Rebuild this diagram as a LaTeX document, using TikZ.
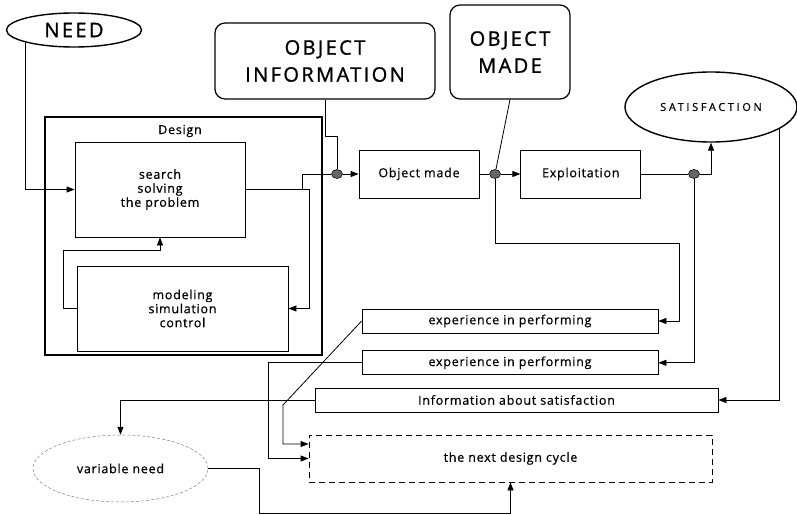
\documentclass[tikz,border=0pt]{standalone}
\usepackage{fontspec}
\setmainfont{Open Sans}
\newfontfamily\spacedfont[LetterSpace=6,FakeBold=0.6]{Open Sans}
\newfontfamily\widefont[LetterSpace=12,FakeBold=1.2]{Open Sans}
\newfontfamily\widerfont[LetterSpace=24,FakeBold=0.6]{Open Sans}
\usetikzlibrary{positioning,shapes.geometric,arrows.meta}
\tikzset{block/.style={draw,line width=0.8pt,minimum width=120pt,minimum height=48pt,
		inner sep=0pt,align=center,font=\spacedfont\fontsize{12.5}{14}\selectfont},
	strip/.style={block,minimum height=24pt},
	bigbox/.style={draw,line width=1.2pt,rounded corners=10pt,align=center,
		font=\widefont\fontsize{20}{27}\selectfont},
	joint/.style={ellipse,draw,fill=gray!80!black,minimum width=11pt,minimum height=9pt,
		inner sep=0pt,line width=0.6pt}}

\begin{document}
\begin{tikzpicture}[x=1pt,y=-1pt,line width=0.8pt,>={Triangle[length=8pt,width=6pt]}]
	\useasboundingbox (0,0) rectangle (797,514);
	% top row
	\node[ellipse,draw,line width=1.4pt,minimum width=135pt,minimum height=34pt,
		font=\widefont\fontsize{20}{22}\selectfont] (need) at (74,30) {NEED};
	\node[bigbox,minimum width=220pt,minimum height=76pt] (objinfo) at (325,61) {OBJECT\\INFORMATION};
	\node[bigbox,minimum width=120pt,minimum height=94pt] (objmade) at (510,52) {OBJECT\\MADE};
	\node[ellipse,draw,line width=1.4pt,minimum width=172pt,minimum height=70pt,
		font=\widerfont\fontsize{11}{12}\selectfont] (satis) at (711,107) {SATISFACTION};
	% design block
	\node[draw,line width=2.4pt,minimum width=277pt,minimum height=238pt] (design) at (183.5,236) {};
	\node[font=\spacedfont\fontsize{12.5}{14}\selectfont] (designlbl) at (180,131) {Design};
	\node[block,minimum width=170pt,minimum height=95pt] (search) at (160,189.5) {search\\solving\\the problem};
	\node[block,minimum width=211pt,minimum height=85pt] (model) at (182.5,308.5) {modeling\\simulation\\control};
	% main line
	\node[block] (omade) at (419,174) {Object made};
	\node[block,right=41pt of omade] (exploit) {Exploitation};
	\node[joint] (d1) at (337,174) {};
	\node[joint] (d2) at (495,174) {};
	\node[joint] (d3) at (694,174) {};
	% feedback
	\node[strip,minimum width=296pt] (exp1) at (510,321) {experience in performing};
	\node[strip,minimum width=296pt,below=17pt of exp1] (exp2) {experience in performing};
	\node[strip,minimum width=403pt] (info) at (516.5,400) {Information about satisfaction};
	\node[block,dash pattern=on 6pt off 4pt,minimum width=403pt,minimum height=47pt] (next) at (510.5,458.5) {the next design cycle};
	\node[ellipse,draw,densely dashed,gray,text=black,line width=0.5pt,minimum width=175pt,minimum height=67pt,
		font=\spacedfont\fontsize{12.5}{14}\selectfont] (varneed) at (120.5,468.5) {variable need};
	\coordinate (split) at (302,189.5);
	\coordinate (loopl) at (63,250);
	\coordinate (turn) at (679,243);
	\coordinate (kink) at (283,405);
	\coordinate (bottom) at (259,513);
	% connectors
	\draw[->] (need.south west) |- (search.west);
	\draw[->] (model.west) -| (loopl) -| (search.south);
	\draw[->] (search.east) -| ([xshift=21pt]model.east) -- (model.east);
	\draw (split) |- (d1);
	\draw (objinfo.south) -- ++(0,37) -| (d1);
	\draw[->] (d1) -- (omade);
	\draw (omade) -- (d2);
	\draw (objmade.south) -- (d2);
	\draw[->] (d2) -- (exploit);
	\draw (exploit) -- (d3);
	\draw[->] (d3) -| (satis.south);
	\draw[->] (d2) |- (turn) |- (exp1.east);
	\draw[->] (d3) |- (exp2.east);
	\draw[->] (satis.-18) |- (info.east);
	\draw[->] (info.west) -| (varneed.north);
	\draw[->] (exp1.west) -- (kink) |- ([yshift=14.5pt]next.west);
	\draw[->] (exp2.west) -- ++(-93,0) |- (next.west);
	\draw[->] (varneed.east) -| (bottom) -| (next.south);
\end{tikzpicture}
\end{document}
